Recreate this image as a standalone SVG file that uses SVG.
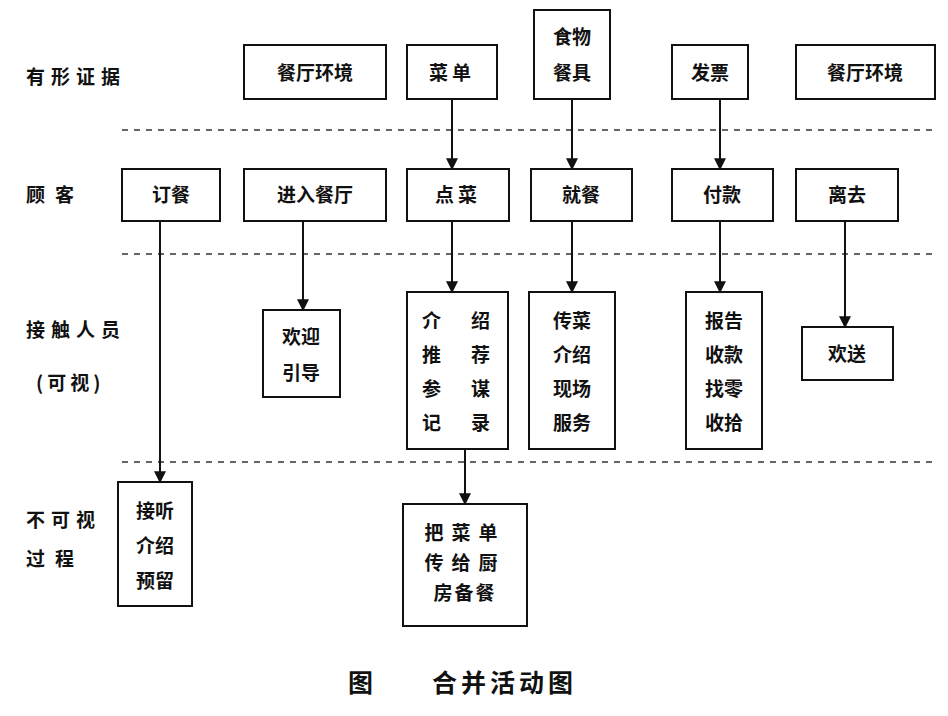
<svg xmlns="http://www.w3.org/2000/svg" width="948" height="716" viewBox="0 0 948 716">
<defs>
<style>
text{font-family:"Noto Sans CJK SC","Liberation Sans",sans-serif;font-size:19px;font-weight:bold;fill:#111}
text.cap{font-size:25px}
.b{fill:#fff;stroke:#111;stroke-width:2}
.d{stroke:#333;stroke-width:1.5;stroke-dasharray:6,6}
.a{stroke:#111;stroke-width:2;fill:none;marker-end:url(#m)}
.c{text-anchor:middle}
</style>
<marker id="m" viewBox="0 0 10 10" refX="9" refY="5" markerWidth="15" markerHeight="12" orient="auto" markerUnits="userSpaceOnUse"><path d="M0,0L10,5L0,10z" fill="#111"/></marker>
</defs>
<rect width="948" height="716" fill="#fff"/>
<g id="labels">
<text x="26" y="84" letter-spacing="6">有形证据</text>
<text x="26" y="202" letter-spacing="10">顾客</text>
<text x="26" y="337" letter-spacing="6">接触人员</text>
<text x="36" y="390" letter-spacing="4">(可视)</text>
<text x="26" y="527" letter-spacing="6">不可视</text>
<text x="26" y="566" letter-spacing="10">过程</text>
</g>
<g id="dividers">
<line class="d" x1="122" y1="130" x2="935" y2="130"/>
<line class="d" x1="122" y1="254" x2="935" y2="254"/>
<line class="d" x1="122" y1="462" x2="935" y2="462"/>
</g>
<g id="n1"><rect class="b" x="244" y="45" width="142" height="54"/><text class="c" x="315" y="80">餐厅环境</text></g>
<g id="n2"><rect class="b" x="407" y="45" width="90" height="54"/><text class="c" x="452" y="80" letter-spacing="4">菜单</text></g>
<g id="n3"><rect class="b" x="534" y="10" width="76" height="89"/><text class="c" x="572" y="44">食物</text><text class="c" x="572" y="80">餐具</text></g>
<g id="n4"><rect class="b" x="672" y="45" width="76" height="54"/><text class="c" x="710" y="80">发票</text></g>
<g id="n5"><rect class="b" x="796" y="45" width="139" height="54"/><text class="c" x="865" y="80">餐厅环境</text></g>
<g id="n6"><rect class="b" x="122" y="169" width="98" height="52"/><text class="c" x="171" y="202">订餐</text></g>
<g id="n7"><rect class="b" x="244" y="169" width="142" height="52"/><text class="c" x="315" y="202">进入餐厅</text></g>
<g id="n8"><rect class="b" x="407" y="169" width="102" height="52"/><text class="c" x="458" y="202" letter-spacing="4">点菜</text></g>
<g id="n9"><rect class="b" x="531" y="169" width="101" height="52"/><text class="c" x="581" y="202">就餐</text></g>
<g id="n10"><rect class="b" x="672" y="169" width="101" height="52"/><text class="c" x="722" y="202">付款</text></g>
<g id="n11"><rect class="b" x="796" y="169" width="102" height="52"/><text class="c" x="847" y="202">离去</text></g>
<g id="n12"><rect class="b" x="263" y="310" width="77" height="87"/><text class="c" x="301" y="344">欢迎</text><text class="c" x="301" y="380">引导</text></g>
<g id="n13"><rect class="b" x="407" y="292" width="101" height="157"/>
<text x="422" y="328">介</text><text x="471" y="328">绍</text>
<text x="422" y="362">推</text><text x="471" y="362">荐</text>
<text x="422" y="396">参</text><text x="471" y="396">谋</text>
<text x="422" y="430">记</text><text x="471" y="430">录</text></g>
<g id="n14"><rect class="b" x="529" y="292" width="86" height="157"/>
<text class="c" x="572" y="328">传菜</text><text class="c" x="572" y="362">介绍</text><text class="c" x="572" y="396">现场</text><text class="c" x="572" y="430">服务</text></g>
<g id="n15"><rect class="b" x="686" y="292" width="76" height="157"/>
<text class="c" x="724" y="328">报告</text><text class="c" x="724" y="362">收款</text><text class="c" x="724" y="396">找零</text><text class="c" x="724" y="430">收拾</text></g>
<g id="n16"><rect class="b" x="802" y="327" width="91" height="53"/><text class="c" x="847" y="361">欢送</text></g>
<g id="n17"><rect class="b" x="118" y="482" width="74" height="124"/>
<text class="c" x="155" y="518">接听</text><text class="c" x="155" y="553">介绍</text><text class="c" x="155" y="588">预留</text></g>
<g id="n18"><rect class="b" x="403" y="504" width="124" height="122"/>
<text class="c" x="465" y="540" letter-spacing="8">把菜单</text><text class="c" x="465" y="570" letter-spacing="8">传给厨</text><text class="c" x="465" y="600" letter-spacing="2">房备餐</text></g>
<g id="connectors">
<line class="a" x1="452" y1="99" x2="452" y2="169"/>
<line class="a" x1="572" y1="99" x2="572" y2="169"/>
<line class="a" x1="720" y1="99" x2="720" y2="169"/>
<line class="a" x1="160" y1="221" x2="160" y2="482"/>
<line class="a" x1="303" y1="221" x2="303" y2="310"/>
<line class="a" x1="452" y1="221" x2="452" y2="292"/>
<line class="a" x1="572" y1="221" x2="572" y2="292"/>
<line class="a" x1="720" y1="221" x2="720" y2="292"/>
<line class="a" x1="845" y1="221" x2="845" y2="327"/>
<line class="a" x1="465" y1="449" x2="465" y2="504"/>
</g>
<g id="caption">
<text class="cap" x="348" y="692">图</text>
<text class="cap" x="432" y="692" letter-spacing="4">合并活动图</text>
</g>
</svg>
